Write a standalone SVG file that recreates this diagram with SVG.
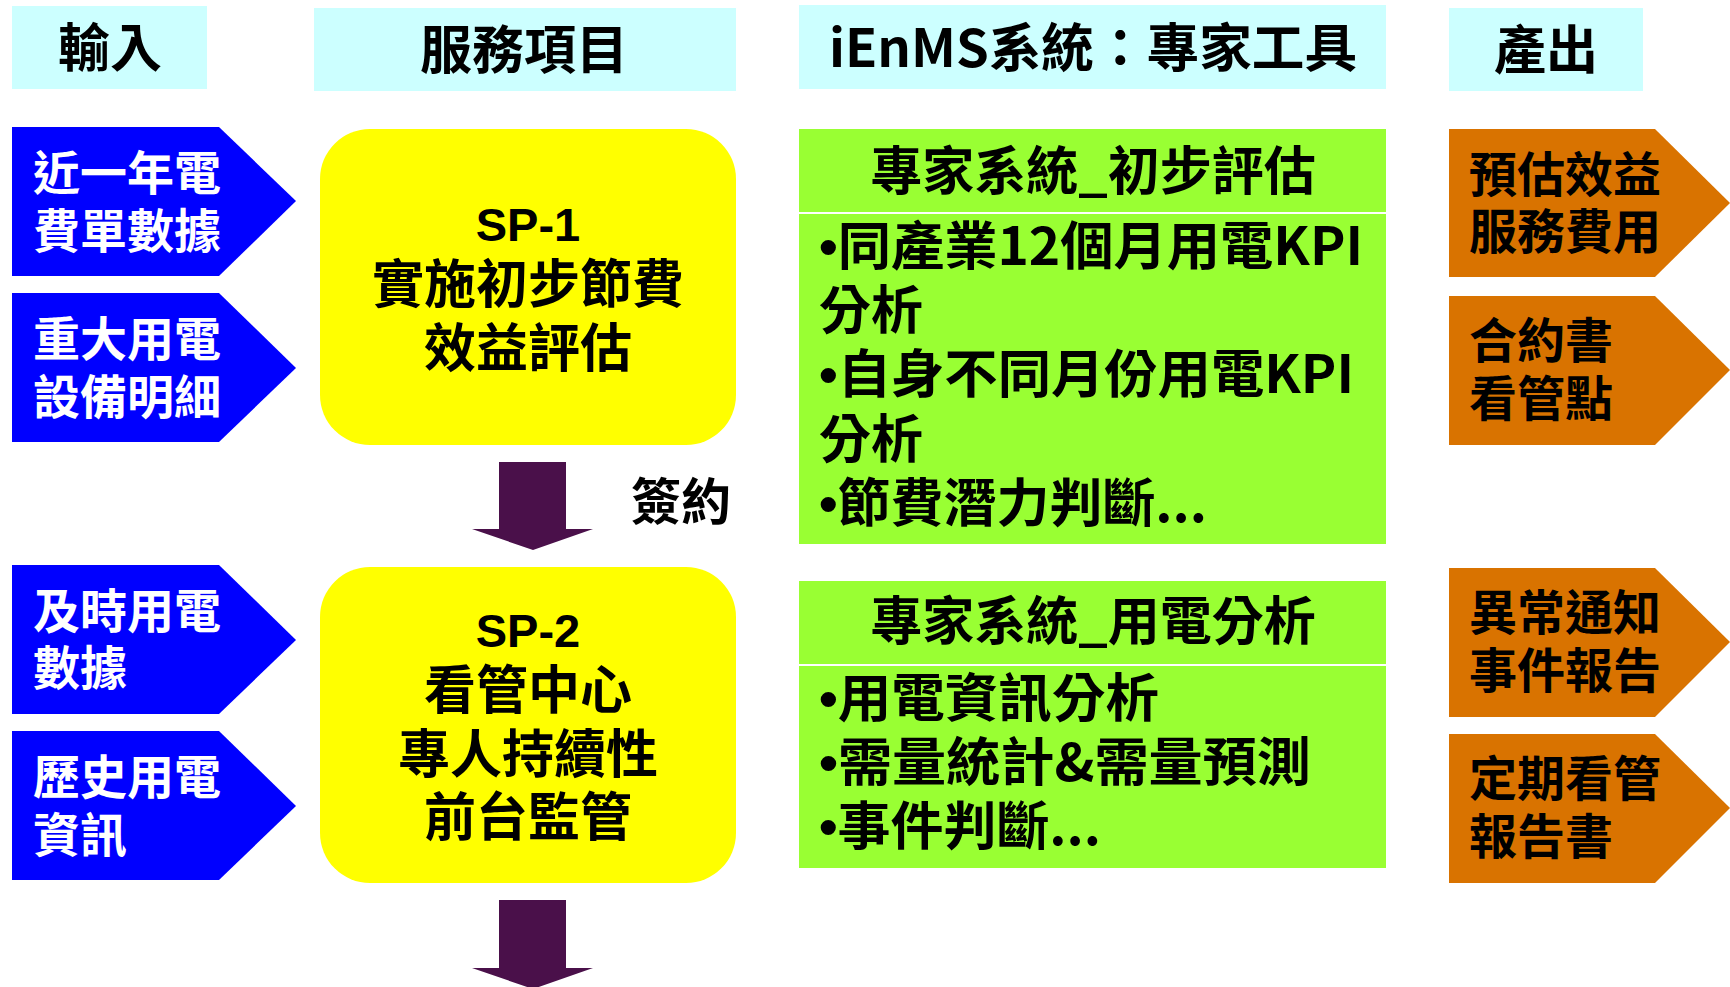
<svg xmlns="http://www.w3.org/2000/svg" width="1730" height="987" viewBox="0 0 1730 987">
<style>
text{font-family:"Noto Sans CJK TC","Noto Sans CJK SC",sans-serif;font-weight:bold;fill:#000}
.hdr{fill:#CCFFFF}
.blue{fill:#0000FF}
.org{fill:#D97300}
.yel{fill:#FFFF00}
.grn{fill:#99FF33}
.div{fill:#FFFFFF}
.arr{fill:#4A104A}
.h{font-size:52px}
.w{fill:#FFFFFF;font-size:47px}
.o{font-size:48px}
.y{font-size:52px;text-anchor:middle}
.sp{font-family:"Liberation Sans",Arial,sans-serif;font-size:47px;text-anchor:middle}
.g{font-size:52px}
.b{font-family:"Liberation Sans",Arial,sans-serif}
</style>
<rect width="1730" height="987" fill="#FFFFFF"/>

<g id="hdr-input"><rect class="hdr" x="12" y="6" width="195" height="83"/><text class="h" x="110" y="67" text-anchor="middle">輸入</text></g>
<g id="hdr-service"><rect class="hdr" x="314" y="8" width="422" height="83"/><text class="h" x="524" y="69" text-anchor="middle">服務項目</text></g>
<g id="hdr-ienms"><rect class="hdr" x="799" y="5" width="587" height="84"/><text class="h" x="1093" y="67" text-anchor="middle" textLength="528" lengthAdjust="spacingAndGlyphs">iEnMS系統：專家工具</text></g>
<g id="hdr-output"><rect class="hdr" x="1449" y="8" width="194" height="83"/><text class="h" x="1546" y="69" text-anchor="middle">產出</text></g>

<g id="in1"><polygon class="blue" points="12,127 219,127 296,201 219,276 12,276"/><text class="w" x="33" y="190">近一年電</text><text class="w" x="33" y="248">費單數據</text></g>
<g id="in2"><polygon class="blue" points="12,293 219,293 296,368 219,442 12,442"/><text class="w" x="33" y="356">重大用電</text><text class="w" x="33" y="414">設備明細</text></g>
<g id="in3"><polygon class="blue" points="12,565 219,565 296,640 219,714 12,714"/><text class="w" x="33" y="628">及時用電</text><text class="w" x="33" y="685">數據</text></g>
<g id="in4"><polygon class="blue" points="12,731 219,731 296,806 219,880 12,880"/><text class="w" x="33" y="794">歷史用電</text><text class="w" x="33" y="852">資訊</text></g>

<g id="sp1"><rect class="yel" x="320" y="129" width="416" height="316" rx="50" ry="50"/><text class="sp" x="528" y="241">SP-1</text><text class="y" x="528" y="303">實施初步節費</text><text class="y" x="528" y="367">效益評估</text></g>
<g id="sp2"><rect class="yel" x="320" y="567" width="416" height="316" rx="50" ry="50"/><text class="sp" x="528" y="647">SP-2</text><text class="y" x="528" y="709">看管中心</text><text class="y" x="528" y="773">專人持續性</text><text class="y" x="528" y="836">前台監管</text></g>

<g id="exp1"><rect class="grn" x="799" y="129" width="587" height="415"/><rect class="div" x="799" y="212" width="587" height="2"/>
<text class="g" x="1093" y="190" text-anchor="middle">專家系統_初步評估</text>
<text class="g" x="819" y="265" textLength="544" lengthAdjust="spacingAndGlyphs"><tspan class="b">•</tspan>同產業12個月用電KPI</text>
<text class="g" x="819" y="329">分析</text>
<text class="g" x="819" y="393" textLength="535" lengthAdjust="spacingAndGlyphs"><tspan class="b">•</tspan>自身不同月份用電KPI</text>
<text class="g" x="819" y="458">分析</text>
<text class="g" x="819" y="522" textLength="388" lengthAdjust="spacingAndGlyphs"><tspan class="b">•</tspan>節費潛力判斷...</text>
</g>
<g id="exp2"><rect class="grn" x="799" y="581" width="587" height="287"/><rect class="div" x="799" y="664" width="587" height="2"/>
<text class="g" x="1093" y="640" text-anchor="middle">專家系統_用電分析</text>
<text class="g" x="819" y="717" textLength="340" lengthAdjust="spacingAndGlyphs"><tspan class="b">•</tspan>用電資訊分析</text>
<text class="g" x="819" y="781" textLength="492" lengthAdjust="spacingAndGlyphs"><tspan class="b">•</tspan>需量統計&amp;需量預測</text>
<text class="g" x="819" y="845" textLength="282" lengthAdjust="spacingAndGlyphs"><tspan class="b">•</tspan>事件判斷...</text>
</g>

<g id="out1"><polygon class="org" points="1449,129 1655,129 1730,203 1655,277 1449,277"/><text class="o" x="1469" y="192">預估效益</text><text class="o" x="1469" y="249">服務費用</text></g>
<g id="out2"><polygon class="org" points="1449,296 1655,296 1730,370 1655,445 1449,445"/><text class="o" x="1469" y="358">合約書</text><text class="o" x="1469" y="416">看管點</text></g>
<g id="out3"><polygon class="org" points="1449,568 1655,568 1730,642 1655,717 1449,717"/><text class="o" x="1469" y="630">異常通知</text><text class="o" x="1469" y="688">事件報告</text></g>
<g id="out4"><polygon class="org" points="1449,734 1655,734 1730,808 1655,883 1449,883"/><text class="o" x="1469" y="796">定期看管</text><text class="o" x="1469" y="854">報告書</text></g>

<g id="connectors">
<polygon class="arr" points="499,462 566,462 566,529 593,529 533,550 472,529 499,529"/>
<text style="font-size:50px" x="631" y="520">簽約</text>
<polygon class="arr" points="499,900 566,900 566,968 593,968 533,989 472,968 499,968"/>
</g>
</svg>
